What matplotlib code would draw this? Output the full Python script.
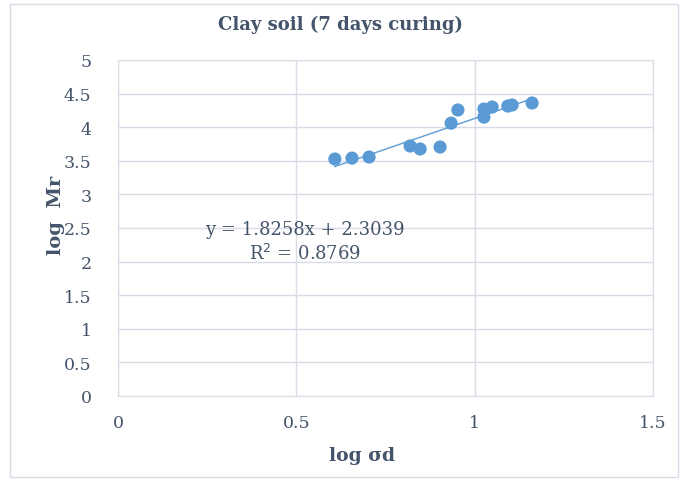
import numpy as np
import matplotlib.pyplot as plt
from matplotlib.patches import Rectangle

# data
log_sd = [0.608, 0.656, 0.704, 0.819, 0.847, 0.903, 0.934, 0.953,
          1.026, 1.026, 1.049, 1.093, 1.105, 1.161]
log_mr = [3.527, 3.540, 3.556, 3.720, 3.676, 3.705, 4.060, 4.256,
          4.270, 4.150, 4.300, 4.315, 4.330, 4.360]
slope, intercept, r2 = 1.8258, 2.3039, 0.8769

text_col = '#44546a'
grid_col = '#dadbe6'
point_col = '#5b9bd5'
plt.rcParams['font.family'] = ['DejaVu Serif']

fig = plt.figure(figsize=(6.83, 4.81), dpi=100)
ax = fig.add_axes([118 / 683, 1 - 397 / 481, (653 - 118) / 683, (397 - 61) / 481])

# outer chart border
fig.patches.append(Rectangle((10 / 683, 3 / 481), 668 / 683, 473 / 481,
                             transform=fig.transFigure, fill=False,
                             edgecolor=grid_col, lw=1))

ax.scatter(log_sd, log_mr, s=90, color=point_col, zorder=3, edgecolors='none')
xs = np.array([min(log_sd), max(log_sd)])
ax.plot(xs, slope * xs + intercept, color=point_col, lw=1, zorder=2)

ax.set_xlim(0, 1.5)
ax.set_ylim(0, 5)
ax.set_xticks([0, 0.5, 1, 1.5])
ax.set_xticklabels(['0', '0.5', '1', '1.5'])
ax.set_yticks(np.arange(0, 5.01, 0.5))
ax.set_yticklabels(['0', '0.5', '1', '1.5', '2', '2.5', '3', '3.5', '4', '4.5', '5'])
ax.grid(True, color=grid_col, lw=1)
ax.set_axisbelow(True)
for s in ax.spines.values():
    s.set_color(grid_col)
ax.tick_params(length=0, labelsize=12.5, colors=text_col, pad=13)
ax.tick_params(axis='y', pad=19)

fig.text(341 / 683, 1 - 25 / 481, 'Clay soil (7 days curing)', fontsize=13,
         fontweight='bold', color=text_col, ha='center', va='center')
fig.text(362 / 683, 1 - 456 / 481, 'log \u03c3d', fontsize=13.5,
         fontweight='bold', color=text_col, ha='center', va='center')
fig.text(56 / 683, 1 - 215 / 481, 'log  Mr', fontsize=14, rotation=90,
         fontweight='bold', color=text_col, ha='center', va='center')

ax.text(0.524, 2.49, 'y = %.4fx + %.4f' % (slope, intercept), fontsize=13,
        color=text_col, ha='center', va='center')
ax.text(0.524, 2.13, 'R$^2$ = %.4f' % r2, fontsize=13,
        color=text_col, ha='center', va='center')

fig.savefig('out.png', dpi=100)
